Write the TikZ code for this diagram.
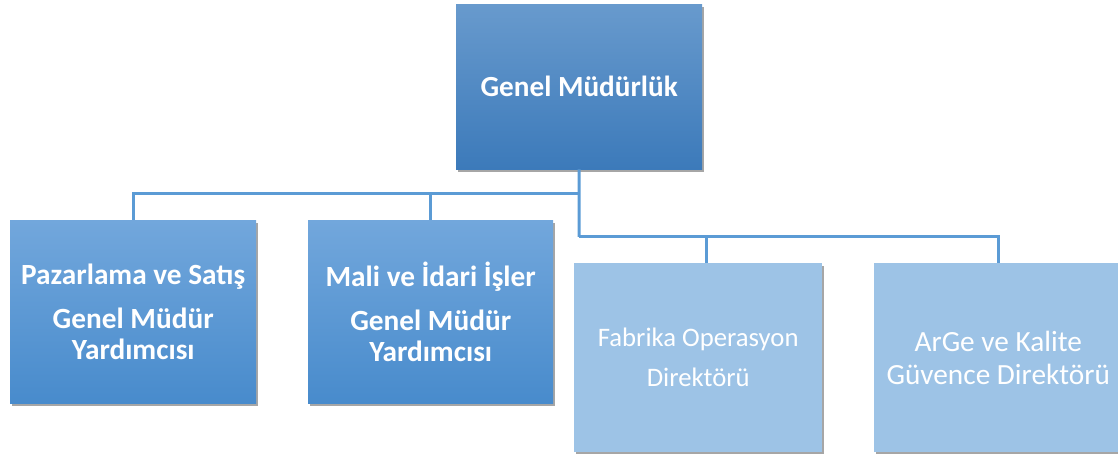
\documentclass[tikz,border=0pt]{standalone}
\usepackage{fontspec}
\setmainfont{Carlito}
\usetikzlibrary{shadows}
\definecolor{linkblue}{RGB}{91,155,213}
\definecolor{topA}{RGB}{104,154,205}
\definecolor{topB}{RGB}{60,122,186}
\definecolor{midA}{RGB}{114,167,220}
\definecolor{midB}{RGB}{72,139,204}
\definecolor{lightbox}{RGB}{157,195,230}
\begin{document}
\begin{tikzpicture}[x=1pt,y=-1pt,
  boxbase/.style={anchor=north west, inner sep=0pt, align=center, text=white,
    drop shadow={shadow xshift=2pt, shadow yshift=-3pt, opacity=0.35, fill=black}},
  topbox/.style={boxbase, top color=topA, bottom color=topB},
  midbox/.style={boxbase, top color=midA, bottom color=midB},
  lightbox/.style={boxbase, fill=lightbox},
  conn/.style={draw=linkblue, line width=3pt}]
\useasboundingbox (0,0) rectangle (1118,454);

\node[topbox, minimum width=246pt, minimum height=165pt,
  font=\fontsize{29.2}{33}\selectfont\bfseries] (gm) at (456,4) {Genel Müdürlük};

\node[midbox, minimum width=246pt, minimum height=183pt,
  font=\fontsize{29.3}{31}\selectfont\bfseries] (b1) at (10,220)
  {Pazarlama ve Satış\\[13pt]Genel Müdür\\Yardımcısı};
\node[midbox, minimum width=245pt, minimum height=183pt,
  font=\fontsize{29.3}{31}\selectfont\bfseries] (b2) at (308,220)
  {Mali ve İdari İşler\\[13pt]Genel Müdür\\Yardımcısı};
\node[lightbox, minimum width=248pt, minimum height=189pt,
  font=\fontsize{26.7}{40}\selectfont] (b3) at (574,263)
  {Fabrika Operasyon\\Direktörü};
\node[lightbox, minimum width=248pt, minimum height=189pt,
  font=\fontsize{29.3}{33}\selectfont] (b4) at (874,263)
  {ArGe ve Kalite\\Güvence Direktörü};

\coordinate (j1) at (579,194);
\coordinate (j2) at (579,237);
\coordinate (b3top) at (706,263);

\draw[conn] (gm.south) -- (j2);
\draw[conn] (j1) -| (b1.north);
\draw[conn] (j1) -| (b2.north);
\draw[conn] (j2) -| (b3top);
\draw[conn] (j2) -| (b4.north);
\end{tikzpicture}
\end{document}
